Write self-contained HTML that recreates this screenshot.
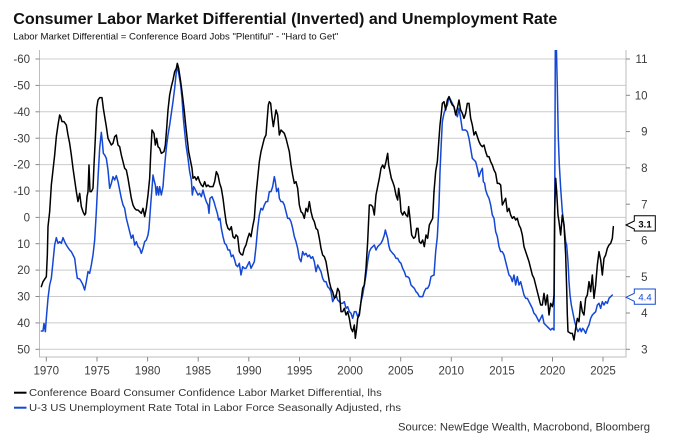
<!DOCTYPE html>
<html><head><meta charset="utf-8"><style>
html,body{margin:0;padding:0;background:#fff;}
svg{display:block;}
text{font-family:"Liberation Sans",Arial,sans-serif;}
</style></head><body>
<svg width="678" height="439" viewBox="0 0 678 439" xmlns="http://www.w3.org/2000/svg">
<rect width="678" height="439" fill="#fff"/>
<text x="13.3" y="24" font-size="16" font-weight="bold" fill="#111" textLength="544" lengthAdjust="spacingAndGlyphs">Consumer Labor Market Differential (Inverted) and Unemployment Rate</text>
<text x="13.3" y="39.5" font-size="9.5" fill="#111" textLength="325" lengthAdjust="spacingAndGlyphs">Labor Market Differential = Conference Board Jobs "Plentiful" - "Hard to Get"</text>

<g stroke="#cccccc" stroke-width="1">
<line x1="40" x2="626" y1="59" y2="59"/>
<line x1="40" x2="626" y1="85.4" y2="85.4"/>
<line x1="40" x2="626" y1="111.8" y2="111.8"/>
<line x1="40" x2="626" y1="138.2" y2="138.2"/>
<line x1="40" x2="626" y1="164.6" y2="164.6"/>
<line x1="40" x2="626" y1="191" y2="191"/>
<line x1="40" x2="626" y1="217.4" y2="217.4"/>
<line x1="40" x2="626" y1="243.7" y2="243.7"/>
<line x1="40" x2="626" y1="270.1" y2="270.1"/>
<line x1="40" x2="626" y1="296.5" y2="296.5"/>
<line x1="40" x2="626" y1="322.9" y2="322.9"/>
<line x1="40" x2="626" y1="349.3" y2="349.3"/>
</g>

<g stroke="#bdbdbd" stroke-width="1" fill="none">
<line x1="39.5" x2="39.5" y1="50" y2="357.5"/>
<line x1="626" x2="626" y1="50" y2="357.5"/>
<line x1="39.5" x2="626" y1="357" y2="357"/>
</g>
<g stroke="#888" stroke-width="1">
<line x1="35.5" x2="39.5" y1="59" y2="59"/>
<line x1="35.5" x2="39.5" y1="85.4" y2="85.4"/>
<line x1="35.5" x2="39.5" y1="111.8" y2="111.8"/>
<line x1="35.5" x2="39.5" y1="138.2" y2="138.2"/>
<line x1="35.5" x2="39.5" y1="164.6" y2="164.6"/>
<line x1="35.5" x2="39.5" y1="191" y2="191"/>
<line x1="35.5" x2="39.5" y1="217.4" y2="217.4"/>
<line x1="35.5" x2="39.5" y1="243.7" y2="243.7"/>
<line x1="35.5" x2="39.5" y1="270.1" y2="270.1"/>
<line x1="35.5" x2="39.5" y1="296.5" y2="296.5"/>
<line x1="35.5" x2="39.5" y1="322.9" y2="322.9"/>
<line x1="35.5" x2="39.5" y1="349.3" y2="349.3"/>
<line x1="626" x2="630" y1="59" y2="59"/>
<line x1="626" x2="630" y1="95.3" y2="95.3"/>
<line x1="626" x2="630" y1="131.6" y2="131.6"/>
<line x1="626" x2="630" y1="167.9" y2="167.9"/>
<line x1="626" x2="630" y1="204.2" y2="204.2"/>
<line x1="626" x2="630" y1="240.5" y2="240.5"/>
<line x1="626" x2="630" y1="276.7" y2="276.7"/>
<line x1="626" x2="630" y1="313" y2="313"/>
<line x1="626" x2="630" y1="349.3" y2="349.3"/>
<line x1="46.3" x2="46.3" y1="357" y2="361.5"/>
<line x1="97" x2="97" y1="357" y2="361.5"/>
<line x1="147.6" x2="147.6" y1="357" y2="361.5"/>
<line x1="198.2" x2="198.2" y1="357" y2="361.5"/>
<line x1="248.8" x2="248.8" y1="357" y2="361.5"/>
<line x1="299.5" x2="299.5" y1="357" y2="361.5"/>
<line x1="350.1" x2="350.1" y1="357" y2="361.5"/>
<line x1="400.7" x2="400.7" y1="357" y2="361.5"/>
<line x1="451.3" x2="451.3" y1="357" y2="361.5"/>
<line x1="502" x2="502" y1="357" y2="361.5"/>
<line x1="552.5" x2="552.5" y1="357" y2="361.5"/>
<line x1="603" x2="603" y1="357" y2="361.5"/>
</g>

<g font-size="11.5" fill="#3c3c3c" text-anchor="end">
<text x="30" y="63.1">-60</text>
<text x="30" y="89.5">-50</text>
<text x="30" y="115.9">-40</text>
<text x="30" y="142.3">-30</text>
<text x="30" y="168.7">-20</text>
<text x="30" y="195.1">-10</text>
<text x="30" y="221.5">0</text>
<text x="30" y="247.8">10</text>
<text x="30" y="274.2">20</text>
<text x="30" y="300.6">30</text>
<text x="30" y="327">40</text>
<text x="30" y="353.4">50</text>
<text x="647.5" y="63.1">11</text>
<text x="647.5" y="99.4">10</text>
<text x="647.5" y="135.7">9</text>
<text x="647.5" y="172">8</text>
<text x="647.5" y="208.3">7</text>
<text x="647.5" y="244.6">6</text>
<text x="647.5" y="280.8">5</text>
<text x="647.5" y="317.1">4</text>
<text x="647.5" y="353.4">3</text>
</g>
<g font-size="11.5" fill="#3c3c3c" text-anchor="middle">
<text x="46.3" y="374.3">1970</text>
<text x="97" y="374.3">1975</text>
<text x="147.6" y="374.3">1980</text>
<text x="198.2" y="374.3">1985</text>
<text x="248.8" y="374.3">1990</text>
<text x="299.5" y="374.3">1995</text>
<text x="350.1" y="374.3">2000</text>
<text x="400.7" y="374.3">2005</text>
<text x="451.3" y="374.3">2010</text>
<text x="502" y="374.3">2015</text>
<text x="552.5" y="374.3">2020</text>
<text x="603" y="374.3">2025</text>
</g>

<defs><clipPath id="pc"><rect x="40" y="50" width="586" height="307"/></clipPath></defs>
<g clip-path="url(#pc)" fill="none" stroke-linejoin="round" stroke-linecap="round">
<!-- Blue series -->
<g stroke="#1448d4" stroke-width="4.5">
<polyline transform="translate(38,55) scale(0.33333)" points="10,828 15,828 18,805 22,830 25,790 30,730 35,690 40,670 45,620 50,570 55,548 60,565 65,560 70,565 75,548 80,560 85,570 90,578 95,585 100,590 105,600 110,610 115,650 118,670 125,672 130,680 135,690 140,705 145,680 150,650 155,655 160,630 165,600 170,555 175,470 180,370 185,280 190,232 193,260 196,295 200,300 205,310 210,345 215,400 220,385 225,365 230,375 235,362 240,380 245,405 250,430 255,450 260,460 265,490 270,510 275,530 280,550 285,540 290,570 295,560 300,575 305,580 310,595 315,580 320,560 325,555 330,540 333,520 338,450 342,400 345,360 348,375 352,390 355,420 358,395 362,420 365,395 370,420 375,395 378,355 382,310 386,270 390,240 395,210 400,175 405,140 410,100 415,50 418,35 422,55 428,90 432,130 436,190 440,230 444,270 450,310 455,350 460,375 463,420 467,395 470,400 475,410 480,420 485,415 490,425 495,405 500,425 505,440 510,450 513,475 516,430 522,425 528,440 532,455 538,475 542,495 546,490 550,520 555,545 560,565 565,570 570,585 575,585 580,605 585,600 590,615 594,630"/>
<polyline transform="translate(236,55) scale(0.33333)" points="0,630 5,635 10,625 15,660 20,635 25,640 30,640 35,630 40,620 45,640 50,630 55,620 60,575 65,520 70,480 75,460 80,465 85,450 90,440 95,440 100,410 105,410 110,395 115,365 118,380 122,410 127,400 130,430 135,440 140,440 145,450 150,470 155,490 160,490 165,500 170,520 175,545 180,560 185,580 190,610 195,620 200,590 205,600 210,595 215,605 220,600 225,610 230,605 235,620 240,650 245,630 250,640 255,650 260,670 265,680 270,680 275,695 280,700 285,710 290,740 295,730 300,720 305,735 310,740 315,745 320,745 325,740 330,760 335,755 340,770 345,775 350,790 355,770 360,770 365,785 370,775 375,740 380,720 385,690 390,660 395,620 400,590 405,580 410,575 415,570 420,585 425,575 430,570 435,565 440,555 445,540 448,525 452,540 455,550 458,570 462,585 466,590 470,595 475,600 480,610 485,610 490,620 495,625 500,640 505,650 510,665 515,665 520,670 525,690 530,695 535,700 540,710 545,715 550,725 555,725 560,725 565,710 570,700 575,700 580,690 585,665 590,662 594,660"/>
<polyline transform="translate(434,55) scale(0.33333)" points="0,660 5,590 10,545 15,450 18,350 22,260 25,200 30,175 35,160 40,150 45,125 50,135 55,145 60,155 65,175 70,185 75,160 80,190 85,225 90,225 95,225 100,230 105,250 110,280 115,310 120,315 125,320 130,340 135,365 140,350 145,340 148,380 152,385 155,405 160,420 165,430 170,450 175,480 180,490 185,530 190,545 195,575 200,590 205,590 210,600 215,620 220,640 225,660 230,665 235,680 240,660 245,690 250,665 255,690 260,680 265,700 270,720 275,730 280,730 285,740 290,750 295,760 300,775 305,780 310,790 315,800 320,790 325,780 330,805 335,810 340,815 345,820 350,825 355,820 360,825 362,500 364,-30 367,-30 370,100 373,250 376,330 380,400 385,470 390,510 395,560 398,570 402,620 405,680 408,720 412,750 418,780 422,800 428,820 432,830 438,820 442,830 446,820 450,825 455,835 460,820 465,810 470,790 475,780 480,775 485,770 490,750 495,745 500,760 505,740 510,750 515,740 520,745 525,730 530,725 535,720"/>
</g>
<!-- Black series -->
<g stroke="#000" stroke-width="4.5">
<polyline transform="translate(38,55) scale(0.33333)" points="10,695 15,680 25,665 28,600 30,515 35,470 40,390 45,345 50,300 55,245 60,210 65,180 68,185 72,200 78,200 85,210 90,240 95,265 100,300 105,340 110,375 115,410 120,440 125,415 130,455 135,470 140,480 143,475 147,425 150,410 153,330 156,410 160,410 165,400 168,330 172,250 176,160 180,135 185,128 192,128 196,160 200,185 205,215 210,250 215,260 220,270 225,265 230,245 235,240 240,270 245,275 250,300 255,320 260,340 265,345 270,370 275,400 280,430 285,450 290,460 295,465 300,465 305,470 310,475 315,460 320,485 325,460 330,420 335,370 338,300 342,225 348,235 352,270 356,250 360,275 365,280 370,295 378,290 382,270 386,220 390,165 395,120 400,95 405,75 410,50 415,40 418,25 422,40 428,80 432,110 438,160 443,210 448,255 452,290 458,320 462,340 465,370 470,365 475,375 480,365 485,380 490,390 495,395 500,380 505,395 510,390 515,395 520,395 525,395 530,380 535,350 540,360 545,385 550,400 555,430 560,470 565,505 570,520 575,525 580,515 585,545 590,550 594,540"/>
<polyline transform="translate(236,55) scale(0.33333)" points="0,540 5,545 10,590 15,598 20,600 25,580 30,570 35,550 40,535 45,545 50,515 55,490 60,420 65,370 70,320 75,290 80,270 85,250 90,240 93,200 97,150 100,140 104,145 108,185 112,215 116,190 120,165 125,180 130,240 135,225 140,230 145,235 150,250 155,270 160,290 165,330 170,360 175,385 180,380 185,400 190,450 195,470 200,475 205,490 210,460 215,470 220,440 225,470 230,490 235,500 240,520 245,525 250,550 255,580 260,600 265,605 270,620 275,650 280,680 285,700 290,710 295,730 300,725 305,700 310,710 315,770 320,770 325,760 330,780 335,770 340,790 345,820 350,830 355,810 358,850 362,820 365,790 370,780 375,740 380,700 385,690 390,640 395,560 400,450 405,450 410,455 415,480 420,420 425,395 430,370 435,340 440,330 445,340 450,320 455,295 458,330 462,350 466,370 470,380 475,395 480,420 485,435 488,400 492,430 495,470 500,480 505,470 510,480 515,485 518,455 522,490 527,540 533,550 538,545 542,520 546,520 550,560 555,565 560,555 565,575 570,540 575,550 580,510 585,500 590,490 594,410"/>
<polyline transform="translate(434,55) scale(0.33333)" points="0,410 5,350 10,320 15,250 18,210 22,175 25,145 30,140 35,165 40,135 45,125 50,140 55,150 60,155 65,180 70,160 75,135 80,165 85,175 90,190 95,175 100,145 105,145 110,190 115,210 120,240 125,230 130,245 135,260 140,270 145,275 150,270 155,290 160,305 165,305 170,320 175,330 180,345 185,355 190,385 195,385 200,390 205,450 210,440 215,430 220,470 225,460 230,480 235,490 240,485 245,495 250,490 255,510 260,520 265,540 270,575 275,590 280,605 285,620 290,640 295,660 300,670 305,690 310,710 315,730 320,750 325,750 330,715 335,750 340,720 345,780 350,745 355,755 358,740 360,720 362,470 365,370 368,410 372,480 375,500 380,540 385,480 390,510 395,600 398,700 400,780 402,830 410,835 415,835 420,855 425,820 430,790 435,800 440,740 445,770 450,780 455,730 460,720 465,680 470,710 475,660 480,730 485,690 490,630 495,590 500,615 505,660 510,610 515,600 520,580 525,570 530,565 535,550 538,515"/>
</g>
</g>

<!-- value labels -->
<polygon points="626,225 634.3,221 634.3,215.7 655.3,215.7 655.3,231 634.3,231 634.3,229" fill="#fff" stroke="#000" stroke-width="1"/>
<text x="645" y="227.3" font-size="9.5" font-weight="bold" fill="#000" text-anchor="middle">3.1</text>
<polygon points="626,297.3 634.3,293.3 634.3,289 655.3,289 655.3,304.3 634.3,304.3 634.3,301.3" fill="#fff" stroke="#1448d4" stroke-width="1"/>
<text x="645" y="300.6" font-size="9.5" fill="#1448d4" text-anchor="middle">4.4</text>

<!-- legend -->
<line x1="14" x2="26.5" y1="392.7" y2="392.7" stroke="#000" stroke-width="2"/>
<text x="29" y="396" font-size="10.5" fill="#333" textLength="352.7" lengthAdjust="spacingAndGlyphs">Conference Board Consumer Confidence Labor Market Differential, lhs</text>
<line x1="14" x2="26.5" y1="407.7" y2="407.7" stroke="#1448d4" stroke-width="2"/>
<text x="29" y="411.2" font-size="10.5" fill="#333" textLength="372" lengthAdjust="spacingAndGlyphs">U-3 US Unemployment Rate Total in Labor Force Seasonally Adjusted, rhs</text>
<text x="398" y="430.5" font-size="10.8" fill="#333" textLength="252" lengthAdjust="spacingAndGlyphs">Source: NewEdge Wealth, Macrobond, Bloomberg</text>
</svg>
</body></html>
